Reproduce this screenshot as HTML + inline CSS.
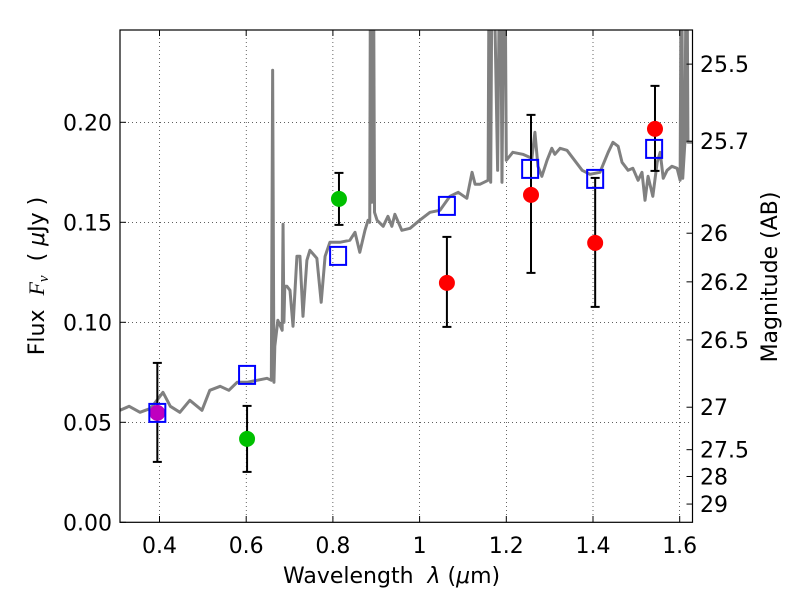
<!DOCTYPE html>
<html><head><meta charset="utf-8"><style>
body{margin:0;background:#fff}
svg text{font-family:"DejaVu Sans","Liberation Sans",sans-serif;fill:#000}
</style></head><body>
<svg id="chart" width="800" height="600" viewBox="0 0 800 600" xmlns="http://www.w3.org/2000/svg">
<defs><clipPath id="clip"><rect x="120" y="30" width="572.5" height="492.3"/></clipPath></defs>
<rect width="800" height="600" fill="#fff"/>
<g id="grid"></g>
<g id="spec" clip-path="url(#clip)"></g>
<g id="marks" clip-path="url(#clip)"></g>
<rect x="120" y="30" width="572.5" height="492.3" fill="none" stroke="#000" stroke-width="1.2"/>
<g id="axes"></g>
<text x="283" y="583" font-size="22">Wavelength&#160;&#160;<tspan font-style="italic">λ</tspan> (<tspan font-style="italic">μ</tspan>m)</text>
<text transform="translate(44,276) rotate(-90)" text-anchor="middle" font-size="22">Flux&#160;&#160;<tspan font-family="Liberation Serif" font-style="italic">F</tspan><tspan font-family="Liberation Serif" font-style="italic" font-size="15" dy="4">ν</tspan><tspan dy="-4">&#160;&#160;(&#160;</tspan><tspan font-style="italic">μ</tspan>Jy )</text>
<text transform="translate(777,277) rotate(-90)" text-anchor="middle" font-size="22">Magnitude (AB)</text>
</svg>
<script>
const specWl=[0.309,0.33,0.355,0.38,0.408,0.425,0.447,0.47,0.498,0.516,0.54,0.56,0.579,0.602,0.625,0.648,0.658,0.661,0.664,0.666,0.673,0.683,0.685,0.687,0.689,0.694,0.701,0.708,0.717,0.724,0.731,0.74,0.747,0.763,0.773,0.782,0.793,0.816,0.839,0.851,0.862,0.874,0.881,0.885,0.887,0.890,0.893,0.896,0.902,0.916,0.927,0.936,0.943,0.959,0.978,1.0,1.024,1.047,1.07,1.089,1.109,1.121,1.128,1.139,1.158,1.161,1.164,1.168,1.18,1.186,1.19,1.196,1.2,1.215,1.238,1.259,1.266,1.273,1.282,1.294,1.305,1.312,1.324,1.34,1.354,1.375,1.393,1.416,1.435,1.446,1.458,1.467,1.481,1.492,1.504,1.513,1.52,1.527,1.538,1.548,1.555,1.562,1.571,1.582,1.594,1.601,1.604,1.607,1.612,1.616,1.619,1.623,1.63];
const specFlux=[0.056,0.058,0.055,0.057,0.065,0.058,0.055,0.061,0.056,0.066,0.068,0.066,0.070,0.070,0.071,0.072,0.071,0.226,0.070,0.088,0.101,0.096,0.149,0.100,0.118,0.118,0.116,0.098,0.133,0.133,0.103,0.131,0.136,0.132,0.110,0.133,0.140,0.140,0.141,0.145,0.135,0.146,0.151,0.150,0.32,0.160,0.32,0.155,0.151,0.148,0.153,0.148,0.154,0.146,0.147,0.151,0.155,0.156,0.163,0.165,0.162,0.175,0.169,0.169,0.171,0.32,0.170,0.32,0.176,0.32,0.170,0.32,0.181,0.185,0.184,0.182,0.195,0.178,0.173,0.181,0.187,0.184,0.187,0.186,0.182,0.176,0.174,0.175,0.185,0.190,0.188,0.180,0.176,0.177,0.171,0.175,0.161,0.173,0.163,0.180,0.185,0.172,0.176,0.178,0.177,0.171,0.32,0.172,0.19,0.32,0.19,0.19,0.19];
const obsWl=[0.395,0.602,0.814,1.063,1.257,1.405,1.543];
const obsFlux=[0.0547,0.0417,0.1617,0.1197,0.1637,0.1397,0.1967];
const obsHi=[0.0797,0.0582,0.1747,0.1427,0.2037,0.1722,0.2182];
const obsLo=[0.0302,0.0252,0.1487,0.0977,0.1247,0.1077,0.1757];
const obsColor=['#bf00bf','#00c000','#00c000','#ff0000','#ff0000','#ff0000','#ff0000'];
const modelWl=[0.395,0.602,0.812,1.063,1.255,1.405,1.541];
const modelFlux=[0.0547,0.0737,0.1332,0.1582,0.1767,0.1717,0.1867];
const xTicks=[0.4,0.6,0.8,1.0,1.2,1.4,1.6];
const xTickLabels=['0.4','0.6','0.8','1','1.2','1.4','1.6'];
const yTicks=[0,0.05,0.10,0.15,0.20];
const yTickLabels=['0.00','0.05','0.10','0.15','0.20'];
const magTicks=[25.5,25.7,26,26.2,26.5,27,27.5,28,29];
const magTickLabels=['25.5','25.7','26','26.2','26.5','27','27.5','28','29'];

const NS='http://www.w3.org/2000/svg';
const X=w=>159.5+(w-0.4)*433.5;
const Y=f=>522.3-f*2000;
function mk(tag,attrs,parent){const e=document.createElementNS(NS,tag);for(const k in attrs)e.setAttribute(k,attrs[k]);parent.appendChild(e);return e;}
const grid=document.getElementById('grid'),axes=document.getElementById('axes'),spec=document.getElementById('spec'),marks=document.getElementById('marks');

xTicks.forEach((t,i)=>{
 const g=mk('line',{x1:X(t),x2:X(t),y1:30,y2:522.3,stroke:'#000','stroke-width':0.6,'stroke-dasharray':'1,3'},grid);
 
 
 mk('line',{x1:X(t),x2:X(t),y1:522.3,y2:516,stroke:'#000'},axes);
 mk('line',{x1:X(t),x2:X(t),y1:30,y2:36,stroke:'#000'},axes);
 const tx=mk('text',{x:X(t),y:553,'text-anchor':'middle','font-size':22},axes);
 tx.textContent=xTickLabels[i];
 
 
});
yTicks.forEach((t,i)=>{
 if(t>0){const g=mk('line',{x1:120,x2:692.5,y1:Y(t),y2:Y(t),stroke:'#000','stroke-width':0.6,'stroke-dasharray':'1,3'},grid);
 
 }
 mk('line',{x1:120,x2:126,y1:Y(t),y2:Y(t),stroke:'#000'},axes);
 const tx=mk('text',{x:112,y:Y(t)+8,'text-anchor':'end','font-size':22},axes);
 tx.textContent=yTickLabels[i];
 
 
});
magTicks.forEach((m,i)=>{
 const f=Math.pow(10,(23.9-m)/2.5);
 mk('line',{x1:686.5,x2:692.5,y1:Y(f),y2:Y(f),stroke:'#000'},axes);
 const tx=mk('text',{x:700,y:Y(f)+8,'font-size':22},axes);
 tx.textContent=magTickLabels[i];
 
 
});
const pl=mk('polyline',{points:specWl.map((w,i)=>X(w)+','+Y(specFlux[i])).join(' '),fill:'none',stroke:'#808080','stroke-width':3,'stroke-linejoin':'round'},spec);


obsWl.forEach((w,i)=>{
 const x=X(w);
 const eb=mk('g',{},marks);
 
 
 mk('line',{x1:x,x2:x,y1:Y(obsHi[i]),y2:Y(obsLo[i]),stroke:'#000','stroke-width':2},eb);
 mk('line',{x1:x-4.5,x2:x+4.5,y1:Y(obsHi[i]),y2:Y(obsHi[i]),stroke:'#000','stroke-width':2},eb);
 mk('line',{x1:x-4.5,x2:x+4.5,y1:Y(obsLo[i]),y2:Y(obsLo[i]),stroke:'#000','stroke-width':2},eb);
 const c=mk('circle',{cx:x,cy:Y(obsFlux[i]),r:8,fill:obsColor[i]},marks);
 
 
});
modelWl.forEach((w,i)=>{
 const r=mk('rect',{x:X(w)-8,y:Y(modelFlux[i])-9,width:16,height:18,fill:'none',stroke:'#0000ff','stroke-width':2},marks);
 
 
});
</script>
</body></html>
